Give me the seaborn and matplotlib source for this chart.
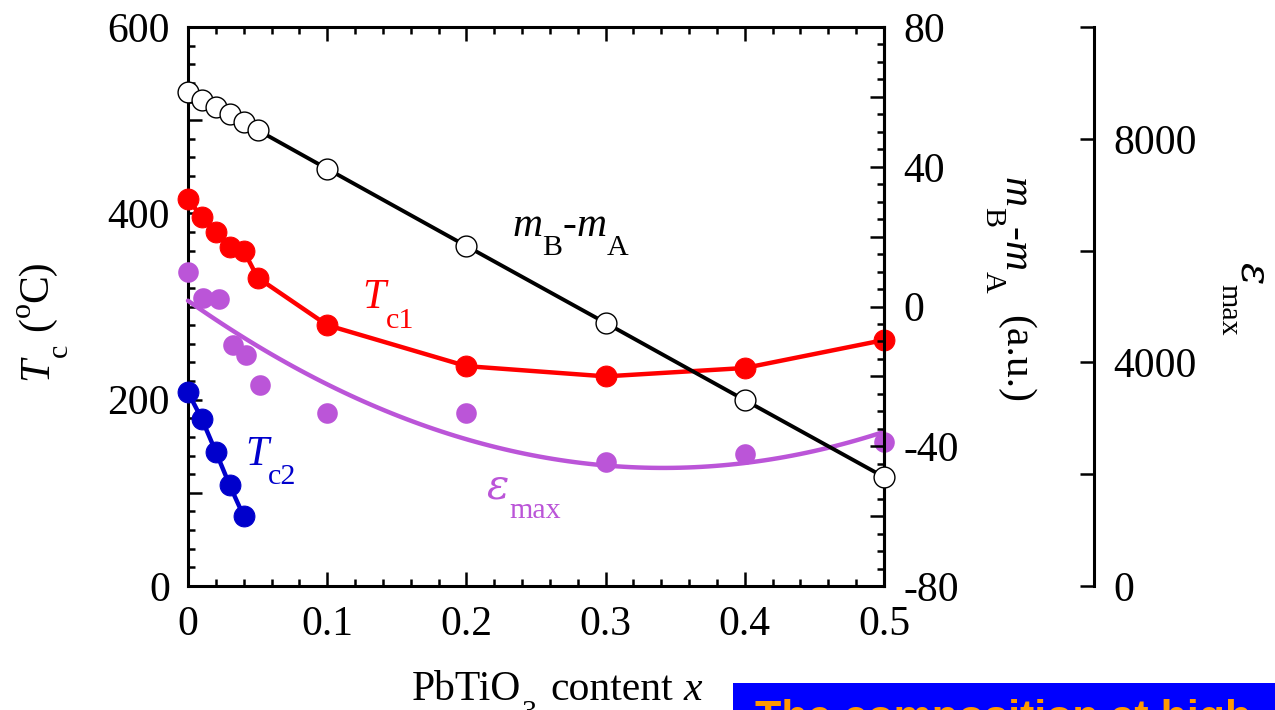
import numpy as np
import pandas as pd
import matplotlib
matplotlib.use("Agg")
import matplotlib.pyplot as plt
from matplotlib.ticker import MultipleLocator, FuncFormatter
from matplotlib.patches import Rectangle
from matplotlib.transforms import IdentityTransform
import seaborn as sns

# ---------------- data ----------------
x_tc1 = [0, 0.01, 0.02, 0.03, 0.04, 0.05, 0.1, 0.2, 0.3, 0.4, 0.5]
tc1 = [415, 396, 380, 364, 360, 331, 280, 236, 225, 234, 264]

x_tc2 = [0, 0.01, 0.02, 0.03, 0.04]
tc2 = [208, 179, 144, 108, 75]

x_m = [0, 0.01, 0.02, 0.03, 0.04, 0.05, 0.1, 0.2, 0.3, 0.4, 0.5]
m_diff = [61.4, 59.1, 57.1, 55.1, 52.8, 50.5, 39.4, 17.3, -4.7, -26.8, -48.8]

x_eps = [0, 0.011, 0.022, 0.032, 0.042, 0.052, 0.1, 0.2, 0.3, 0.4, 0.5]
eps = [5610, 5160, 5140, 4320, 4140, 3600, 3100, 3100, 2220, 2370, 2580]

# ---------------- style ----------------
sns.set_theme(style="ticks")
BLACK = "#000000"
plt.rcParams.update({
    "text.color": BLACK, "axes.edgecolor": BLACK, "axes.labelcolor": BLACK,
    "xtick.color": BLACK, "ytick.color": BLACK, "axes.unicode_minus": False,
})
plt.rcParams["font.family"] = ["Liberation Serif", "DejaVu Serif"]

RED = "#FF0000"
BLUE = "#0000CC"
PURPLE = "#BB55D8"
FS = 30
DPI = 100
H = 710

fig = plt.figure(figsize=(12.75, 7.10), dpi=DPI)
L, R = 188 / 1275, 884 / 1275
B, T = 1 - 586 / 710, 1 - 27 / 710
ax1 = fig.add_axes([L, B, R - L, T - B])
ax1.set_facecolor("none")
ax3 = ax1.twinx()
ax2 = ax1.twinx()

# ---------------- Tc axis ----------------
sns.lineplot(x=x_tc2, y=tc2, ax=ax1, color=BLUE, lw=3.2, marker="o", ms=15,
             mec=BLUE, mfc=BLUE, clip_on=False, estimator=None, zorder=5)
sns.lineplot(x=x_tc1, y=tc1, ax=ax1, color=RED, lw=3.2, marker="o", ms=15,
             mec=RED, mfc=RED, clip_on=False, estimator=None, zorder=5)
ax1.set_xlim(0, 0.5)
ax1.set_ylim(0, 600)

# ---------------- eps axis (points + quadratic fit) ----------------
sns.regplot(x=np.array(x_eps), y=np.array(eps), ax=ax3, order=2, ci=None,
            scatter=False, truncate=True,
            line_kws=dict(color=PURPLE, lw=3.2, clip_on=False, zorder=4))
sns.scatterplot(x=x_eps, y=eps, ax=ax3, color=PURPLE, s=220, edgecolor=PURPLE,
                linewidth=0, clip_on=False, zorder=5)
ax3.set_ylim(0, 10000)
ax3.set_xlim(0, 0.5)

# ---------------- m_B - m_A axis ----------------
sns.lineplot(x=x_m, y=m_diff, ax=ax2, color=BLACK, lw=2.8, marker="o", ms=15,
             mec=BLACK, mfc="white", mew=1.0, clip_on=False, estimator=None,
             zorder=6)
ax2.set_ylim(-80, 80)
ax2.set_xlim(0, 0.5)

for a in (ax1, ax2, ax3):
    a.set_xlabel("")
    a.set_ylabel("")
    if a.get_legend() is not None:
        a.get_legend().remove()

# ticks & spines
SPW = 2.2
for sp in ax1.spines.values():
    sp.set_linewidth(SPW)
for name, sp in ax2.spines.items():
    sp.set_visible(name == "right")
    sp.set_linewidth(SPW)
for name, sp in ax3.spines.items():
    sp.set_visible(name == "right")
    sp.set_linewidth(SPW)
ax3.spines["right"].set_position(("axes", (1094 - 188) / (884 - 188)))

ax1.xaxis.set_major_locator(MultipleLocator(0.1))
ax1.xaxis.set_minor_locator(MultipleLocator(0.02))
ax1.xaxis.set_major_formatter(FuncFormatter(lambda v, p: "0" if abs(v) < 1e-9 else f"{v:g}"))
ax1.yaxis.set_major_locator(MultipleLocator(100))
ax1.yaxis.set_minor_locator(MultipleLocator(20))
ax1.yaxis.set_major_formatter(FuncFormatter(lambda v, p: f"{int(round(v))}" if int(round(v)) % 200 == 0 else ""))
ax1.tick_params(axis="x", which="both", direction="in", top=True, bottom=True,
                labelsize=FS, pad=14)
ax1.tick_params(axis="y", which="both", direction="in", left=True, right=False,
                labelsize=FS, pad=13)
ax1.tick_params(which="major", length=10, width=1.8)
ax1.tick_params(which="minor", length=5, width=1.8)

ax2.yaxis.set_major_locator(MultipleLocator(20))
ax2.yaxis.set_minor_locator(MultipleLocator(5))
ax2.yaxis.set_major_formatter(FuncFormatter(lambda v, p: f"{int(round(v))}" if int(round(v)) % 40 == 0 else ""))
ax2.tick_params(axis="y", which="both", direction="in", right=True, left=False,
                labelsize=FS, pad=14)
ax2.tick_params(axis="y", which="major", length=10, width=1.8)
ax2.tick_params(axis="y", which="minor", length=5, width=1.8)

ax3.yaxis.set_major_locator(MultipleLocator(2000))
ax3.yaxis.set_major_formatter(FuncFormatter(lambda v, p: f"{int(round(v))}" if int(round(v)) % 4000 == 0 and v < 9999 else ""))
ax3.tick_params(axis="y", which="both", direction="in", right=True, left=False,
                labelsize=FS, pad=14, length=10, width=1.8)
ax3.yaxis.set_minor_locator(plt.NullLocator())

# ---------------- rich text helper (real text pieces) ----------------
renderer = fig.canvas.get_renderer()
PX = DPI / 72.0
SUB_SCALE, SUB_DROP, SUP_RAISE = 0.72, 0.47, 0.42
GREEK_FAMILY = ["DejaVu Serif"]


def rich(x, y, parts, fs, color, rotation=0, align="left"):
    """x, y in image pixels (from top-left) of the baseline start/centre."""
    if rotation == 0:
        d, u = np.array([1.0, 0.0]), np.array([0.0, 1.0])
    elif rotation == 90:
        d, u = np.array([0.0, 1.0]), np.array([-1.0, 0.0])
    else:
        d, u = np.array([0.0, -1.0]), np.array([1.0, 0.0])
    items = []
    adv = 0.0
    for s, kind in parts:
        if kind == "space":
            adv += float(s) * fs * PX
            continue
        size = fs * SUB_SCALE if kind in ("sub", "sup") else fs
        style = "italic" if kind in ("i", "g") else "normal"
        family = GREEK_FAMILY if kind == "g" else ["Liberation Serif", "DejaVu Serif"]
        off = 0.0
        if kind == "sub":
            off = -SUB_DROP * fs * PX
        elif kind == "sup":
            off = SUP_RAISE * fs * PX
        t = fig.text(0, 0, s, fontsize=size, style=style, family=family,
                     transform=IdentityTransform())
        w = t.get_window_extent(renderer).width
        t.remove()
        items.append((s, size, style, family, adv, off))
        adv += w
    start = np.array([x, H - y], dtype=float)
    if align == "center":
        start = start - d * adv / 2.0
    for s, size, style, family, a, off in items:
        p = start + d * a + u * off
        fig.text(p[0], p[1], s, fontsize=size, style=style, family=family,
                 color=color, rotation=rotation, rotation_mode="anchor",
                 ha="left", va="baseline", transform=IdentityTransform())


# axis titles
rich(557, 700, [("PbTiO", "n"), ("3", "sub"), ("0.35", "space"), ("content", "n"),
                ("0.25", "space"), ("x", "i")], FS, BLACK, 0, "center")
rich(47, 320, [("T", "i"), ("c", "sub"), ("0.3", "space"), ("(", "n"), ("o", "sup"),
               ("C)", "n")], FS, BLACK, 90, "center")
rich(1005, 290, [("m", "i"), ("B", "sub"), ("-", "n"), ("m", "i"), ("A", "sub"),
                 ("0.55", "space"), ("(a.u.)", "n")], FS, BLACK, 270, "center")
rich(1241, 299, [("\u03b5", "g"), ("max", "sub")], FS, BLACK, 270, "center")


# in-plot labels (positions from data coordinates)
def data_px(ax, x, y):
    px, py = ax.transData.transform((x, y))
    return px, H - py


rich(*data_px(ax1, 0.1255, 298), [("T", "i"), ("c1", "sub")], FS, RED)
rich(*data_px(ax1, 0.041, 130), [("T", "i"), ("c2", "sub")], FS, BLUE)
rich(*data_px(ax1, 0.233, 376), [("m", "i"), ("B", "sub"), ("-", "n"), ("m", "i"),
                                 ("A", "sub")], FS, BLACK)
rich(*data_px(ax1, 0.2145, 94), [("\u03b5", "g"), ("max", "sub")], FS, PURPLE)

# ---------------- blue banner at bottom ----------------
fig.patches.append(Rectangle((733 / 1275, 0), 1 - 733 / 1275, (710 - 683) / 710,
                             transform=fig.transFigure, facecolor="#0000FF",
                             edgecolor="none", zorder=0))
fig.text(755 / 1275, 1 - 699 / 710, "The composition at high", color="#FF9900",
         fontsize=31, fontweight="bold", family=["Liberation Sans", "DejaVu Sans"],
         ha="left", va="top")

fig.savefig("out.png", dpi=DPI)
